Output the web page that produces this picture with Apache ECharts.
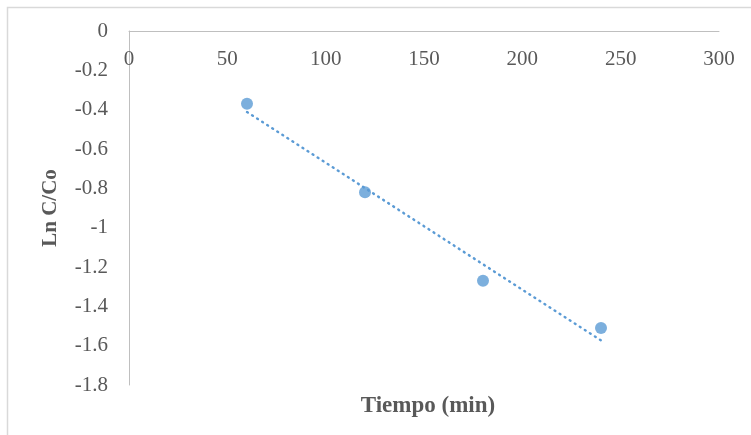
<!DOCTYPE html>
<html>
<head>
<meta charset="utf-8">
<script src="https://cdn.jsdelivr.net/npm/echarts@6/dist/echarts.min.js"></script>
<style>
html,body{margin:0;padding:0;background:#fff;}
#chart{width:751px;height:435px;}
</style>
</head>
<body>
<div id="chart"></div>
<script>
// Data
const timeMin = [60, 120, 180, 240];
const lnCCo = [-0.37, -0.82, -1.27, -1.51];
const xTicks = [0, 50, 100, 150, 200, 250, 300];
const yTicks = [0, -0.2, -0.4, -0.6, -0.8, -1, -1.2, -1.4, -1.6, -1.8];
const xTitle = 'Tiempo (min)';
const yTitle = 'Ln C/Co';

// Linear trendline (least squares) from the data
const n = timeMin.length;
const mx = timeMin.reduce((a, b) => a + b, 0) / n;
const my = lnCCo.reduce((a, b) => a + b, 0) / n;
let sxy = 0, sxx = 0;
for (let i = 0; i < n; i++) { sxy += (timeMin[i] - mx) * (lnCCo[i] - my); sxx += (timeMin[i] - mx) ** 2; }
const slope = sxy / sxx, icpt = my - slope * mx;
const trend = [timeMin[0], timeMin[n - 1]].map(x => [x, icpt + slope * x]);

const FONT = '"Liberation Serif", "Times New Roman", serif';
const chart = echarts.init(document.getElementById('chart'), null, { renderer: 'canvas' });
chart.setOption({
  animation: false,
  backgroundColor: '#ffffff',
  grid: { left: 129, right: 32, top: 31, bottom: 50, containLabel: false },
  graphic: [
    { type: 'rect', shape: { x: 7.5, y: 7.5, width: 800, height: 500 }, style: { fill: 'none', stroke: '#d9d9d9', lineWidth: 1.5 }, silent: true, z: -1 }
  ],
  title: {
    text: xTitle, left: 423, top: 390, textAlign: 'center',
    textStyle: { fontFamily: FONT, fontSize: 23, fontWeight: 'bold', color: '#595959' }
  },
  xAxis: {
    type: 'value', position: 'top', min: xTicks[0], max: xTicks[xTicks.length - 1], interval: 50,
    axisLine: { show: true, onZero: false, lineStyle: { color: '#bfbfbf', width: 1 } },
    axisTick: { show: false },
    splitLine: { show: false },
    axisLabel: { inside: true, margin: 18, fontFamily: FONT, fontSize: 21, color: '#595959',
      customValues: xTicks }
  },
  yAxis: {
    type: 'value', min: yTicks[yTicks.length - 1], max: yTicks[0], interval: 0.2,
    name: yTitle, nameLocation: 'middle', nameGap: 68, nameRotate: 90,
    nameTextStyle: { fontFamily: FONT, fontSize: 21, fontWeight: 'bold', color: '#595959' },
    axisLine: { show: true, onZero: false, lineStyle: { color: '#bfbfbf', width: 1 } },
    axisTick: { show: false },
    splitLine: { show: false },
    axisLabel: { margin: 21, fontFamily: FONT, fontSize: 21, color: '#595959',
      formatter: v => String(parseFloat(v.toFixed(1))) }
  },
  series: [
    {
      type: 'line', data: trend, showSymbol: false, symbol: 'none',
      lineStyle: { color: '#5b9bd5', width: 2.4, type: [1, 5], cap: 'round' },
      z: 2, silent: true
    },
    {
      type: 'scatter', data: timeMin.map((x, i) => [x, lnCCo[i]]),
      symbol: 'circle', symbolSize: 12,
      itemStyle: { color: '#5b9bd5' }, z: 3
    }
  ]
});
</script>
</body>
</html>
